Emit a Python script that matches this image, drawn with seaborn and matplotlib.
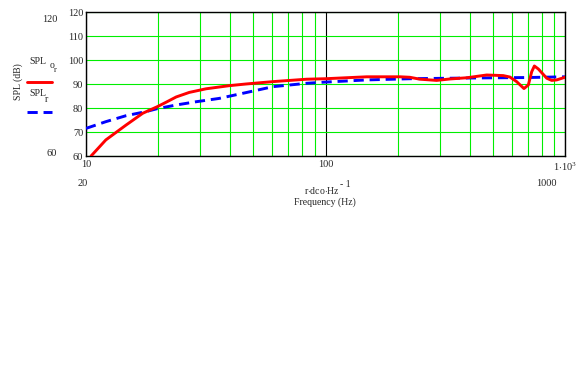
import matplotlib
matplotlib.use('agg')
import matplotlib.pyplot as plt
from matplotlib.lines import Line2D
import matplotlib.ticker as mticker
import numpy as np
import pandas as pd
import seaborn as sns

# red curve SPL_o_r (Hz, dB)
freq_o = [10.5, 12.1, 14.7, 17.25, 19.8, 21.6, 23.8, 27.0, 31.7, 39.6, 46.5,
          60.5, 83.5, 100, 148.6, 205, 225, 248, 291, 331, 389, 471, 552,
          589, 628, 674, 703, 726, 745, 774, 839, 880, 923, 1000]
spl_o = [60.0, 66.7, 72.9, 77.8, 80.5, 82.4, 84.6, 86.5, 88.0, 89.3, 90.0,
         91.0, 92.0, 92.2, 93.0, 93.0, 92.8, 92.0, 91.5, 92.1, 92.6, 93.75, 93.5,
         92.9, 91.0, 88.1, 89.6, 95.1, 97.5, 96.25, 92.4, 91.5, 91.7, 92.8]

# blue dashed curve SPL_r
freq_r = [10, 12.1, 14.7, 17.8, 19.8, 23.8, 28.8, 36.0, 46.5, 60.5, 83.5,
          100, 148.6, 225, 400, 700, 1000]
spl_r = [71.5, 74.3, 76.8, 78.5, 79.7, 81.25, 82.6, 84.0, 86.4, 88.9, 90.3,
         90.8, 91.7, 92.2, 92.5, 92.7, 93.0]

y_ticks = [60, 70, 80, 90, 100, 110, 120]
x_major = [10, 100, 1000]
x_labels = ['10', '100', r'$1{\cdot}10^{3}$']

sns.set_style('white')
plt.rcParams['font.family'] = ['Liberation Serif', 'DejaVu Serif']
plt.rcParams['mathtext.fontset'] = 'custom'
plt.rcParams['mathtext.rm'] = 'Liberation Serif'
plt.rcParams['mathtext.it'] = 'Liberation Serif'

fs = 7
green = '#00ee00'

fig = plt.figure(figsize=(5.82, 3.84), dpi=100)
ax = fig.add_axes([86 / 582, 1 - 156 / 384, 479 / 582, 144 / 384])

df_o = pd.DataFrame({'f': freq_o, 'spl': spl_o})
df_r = pd.DataFrame({'f': freq_r, 'spl': spl_r})
sns.lineplot(data=df_o, x='f', y='spl', ax=ax, color='#ff0000', lw=2.1, zorder=4)
sns.lineplot(data=df_r, x='f', y='spl', ax=ax, color='#0000ff', lw=2.1,
             dashes=False, zorder=3)
ax.lines[-1].set_dashes([3.5, 2])

ax.set_xscale('log')
ax.set_xlim(10, 1000)
ax.set_ylim(60, 120)
ax.set_xticks(x_major)
ax.set_xticklabels(x_labels)
ax.xaxis.set_minor_locator(mticker.LogLocator(base=10, subs=np.arange(2, 10)))
ax.xaxis.set_minor_formatter(mticker.NullFormatter())
ax.set_yticks(y_ticks)
ax.set_yticklabels([str(v) for v in y_ticks])
ax.tick_params(length=0, labelsize=fs + 0.5, pad=2)
ax.tick_params(axis='x', pad=3)
ax.set_xlabel('')
ax.set_ylabel('')

ax.xaxis.grid(True, which='minor', color=green, lw=0.8)
ax.xaxis.grid(True, which='major', color='black', lw=0.8)
ax.yaxis.grid(True, which='major', color=green, lw=0.8)
ax.set_axisbelow(True)
for s in ax.spines.values():
    s.set_color('black')
    s.set_linewidth(1.0)

# Mathcad-style outer limit labels
fig.text(50 / 582, 1 - 19 / 384, '120', fontsize=fs + 0.5, ha='center', va='center')
fig.text(52 / 582, 1 - 153 / 384, '60', fontsize=fs + 0.5, ha='center', va='center')
fig.text(83 / 582, 1 - 183 / 384, '20', fontsize=fs + 0.5, ha='center', va='center')
fig.text(546 / 582, 1 - 183 / 384, '1000', fontsize=fs + 0.5, ha='center', va='center')

fig.text(18 / 582, 1 - 82 / 384, 'SPL (dB)', fontsize=fs, rotation=90,
         ha='center', va='center')

# legend
fig.text(29 / 582, 1 - 62 / 384, 'SPL', fontsize=fs, ha='left', va='center')
fig.text(50 / 582, 1 - 66 / 384, 'o', fontsize=fs, ha='left', va='center')
fig.text(54 / 582, 1 - 70 / 384, 'r', fontsize=6, ha='left', va='center')
fig.add_artist(Line2D([27 / 582, 52 / 582], [1 - 82 / 384, 1 - 82 / 384],
                      color='#ff0000', lw=2.1))
fig.text(29 / 582, 1 - 93 / 384, 'SPL', fontsize=fs, ha='left', va='center')
fig.text(45 / 582, 1 - 99 / 384, 'r', fontsize=fs, ha='left', va='center')
fig.add_artist(Line2D([27 / 582, 52 / 582], [1 - 112 / 384, 1 - 112 / 384],
                      color='#0000ff', lw=2.1, dashes=[3.5, 2]))

# x labels
fig.text(322 / 582, 1 - 190 / 384, r'r$\cdot$dco$\cdot$Hz', fontsize=fs,
         ha='center', va='center')
fig.text(340 / 582, 1 - 184 / 384, '- 1', fontsize=fs, ha='left', va='center')
fig.text(325 / 582, 1 - 202 / 384, 'Frequency (Hz)', fontsize=fs,
         ha='center', va='center')

fig.savefig('out.png', dpi=100, facecolor='white')
